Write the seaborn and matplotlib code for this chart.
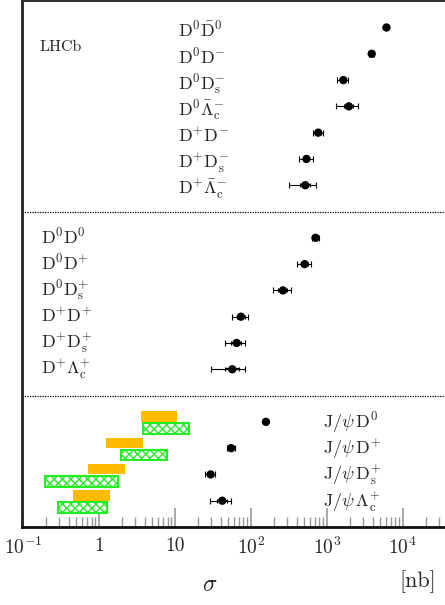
import numpy as np
import pandas as pd
import matplotlib
matplotlib.use("Agg")
import matplotlib.pyplot as plt
import seaborn as sns

# Cross sections [nb]
top_labels = [r'$\mathrm{D^{0}\bar{D}^{0}}$', r'$\mathrm{D^{0}D^{-}}$', r'$\mathrm{D^{0}D_{s}^{-}}$',
              r'$\mathrm{D^{0}\bar{\Lambda}_{c}^{-}}$', r'$\mathrm{D^{+}D^{-}}$', r'$\mathrm{D^{+}D_{s}^{-}}$',
              r'$\mathrm{D^{+}\bar{\Lambda}_{c}^{-}}$']
top_sigma = [6100, 3900, 1650, 1950, 770, 540, 520]
top_err = [350, 300, 270, 640, 120, 110, 200]
top_stat = [150, 120, 110, 250, 60, 50, 80]

mid_labels = [r'$\mathrm{D^{0}D^{0}}$', r'$\mathrm{D^{0}D^{+}}$', r'$\mathrm{D^{0}D_{s}^{+}}$',
              r'$\mathrm{D^{+}D^{+}}$', r'$\mathrm{D^{+}D_{s}^{+}}$', r'$\mathrm{D^{+}\Lambda_{c}^{+}}$']
mid_sigma = [710, 510, 265, 74, 65, 57]
mid_err = [80, 110, 70, 18, 19, 27]
mid_stat = [40, 50, 35, 9, 10, 12]

bot_labels = [r'$\mathrm{J/\psi\,D^{0}}$', r'$\mathrm{J/\psi\,D^{+}}$', r'$\mathrm{J/\psi\,D_{s}^{+}}$',
              r'$\mathrm{J/\psi\,\Lambda_{c}^{+}}$']
bot_sigma = [158, 55, 29.5, 42]
bot_err = [6, 7, 4.5, 13]
bot_stat = [3, 3, 2, 6]

# DPS predictions (orange) and other predictions (green): [low, high]
dps_lo = [3.6, 1.24, 0.72, 0.455]
dps_hi = [10.8, 3.76, 2.18, 1.38]
alt_lo = [3.8, 1.93, 0.195, 0.29]
alt_hi = [15.4, 7.8, 1.76, 1.27]

top_rows = np.arange(1, 8)
mid_rows = np.arange(9, 15)
bot_rows = np.arange(16, 20)

df = pd.DataFrame({
    "sigma": top_sigma + mid_sigma + bot_sigma,
    "err": top_err + mid_err + bot_err,
    "stat": top_stat + mid_stat + bot_stat,
    "row": np.concatenate([top_rows, mid_rows, bot_rows]),
})

sns.set_style("white")
plt.rcParams['font.family'] = ['cmr10', 'DejaVu Serif']
plt.rcParams['mathtext.fontset'] = 'cm'
plt.rcParams['axes.unicode_minus'] = False
plt.rcParams['hatch.linewidth'] = 1.0

fig = plt.figure(figsize=(4.45, 6.05), dpi=100)
ax = fig.add_axes([22 / 445, 1 - 527 / 605, 423 / 445, 527 / 605 - 0.002])

# prediction boxes
ax.barh(bot_rows - 0.2, np.array(dps_hi) - np.array(dps_lo), left=dps_lo, height=0.4,
        color='#FFBB00', linewidth=0, zorder=2)
ax.barh(bot_rows + 0.26, np.array(alt_hi) - np.array(alt_lo), left=alt_lo, height=0.4,
        facecolor='white', edgecolor='#22EE22', hatch='xxxx', linewidth=1.5, zorder=2)

# error bars: total and statistical
ax.errorbar(df["sigma"], df["row"], xerr=df["err"], fmt='none', ecolor='black',
            elinewidth=0.8, capsize=2, capthick=0.8, zorder=3)
ax.errorbar(df["sigma"], df["row"], xerr=df["stat"], fmt='none', ecolor='black',
            elinewidth=1.6, capsize=1.5, capthick=0.8, zorder=3)
sns.scatterplot(data=df, x="sigma", y="row", color='black', s=36, edgecolor='none',
                zorder=4, ax=ax, legend=False)

ax.set_xscale('log')
ax.set_xlim(0.097, 3.6e4)
ax.set_ylim(20, 0)

# row labels
for r, lab in zip(top_rows, top_labels):
    ax.text(11, r + 0.35, lab, fontsize=13, ha='left', va='baseline')
for r, lab in zip(mid_rows, mid_labels):
    ax.text(0.175, r + 0.2, lab, fontsize=13, ha='left', va='baseline')
for r, lab in zip(bot_rows, bot_labels):
    ax.text(880, r + 0.22, lab, fontsize=13, ha='left', va='baseline')
ax.text(0.167, 1.9, 'LHCb', fontsize=11.5, ha='left', va='baseline')

# panel separators
for yy in [8, 15]:
    ax.axhline(yy, color='black', linestyle=(0, (1, 1)), linewidth=0.9)

ax.set_xticks([0.1, 1, 10, 100, 1000, 10000])
ax.set_xticklabels([r'$10^{-1}$', '1', '10', r'$10^{2}$', r'$10^{3}$', r'$10^{4}$'],
                   fontsize=14)
ax.xaxis.set_minor_locator(matplotlib.ticker.LogLocator(base=10, subs=np.arange(2, 10)))
ax.xaxis.set_minor_formatter(matplotlib.ticker.NullFormatter())
ax.tick_params(axis='x', which='major', direction='in', length=14, width=1.2,
               color='#999999', pad=7, bottom=True)
ax.tick_params(axis='x', which='minor', direction='in', length=7, width=1.0,
               color='#999999', bottom=True)
ax.set_yticks([])
ax.set_xlabel('')
ax.set_ylabel('')

ax.spines['right'].set_visible(False)
ax.spines['left'].set_linewidth(2)
ax.spines['left'].set_color('#222222')
ax.spines['bottom'].set_linewidth(2)
ax.spines['bottom'].set_color('#111111')
ax.spines['top'].set_linewidth(1.5)
ax.spines['top'].set_color('#333333')

fig.text(210 / 445, 1 - 585 / 605, r'$\sigma$', fontsize=17, ha='center', va='center')
fig.text(418 / 445, 1 - 582 / 605, '[nb]', fontsize=16, ha='center', va='center')

fig.savefig("out.png", dpi=100)
